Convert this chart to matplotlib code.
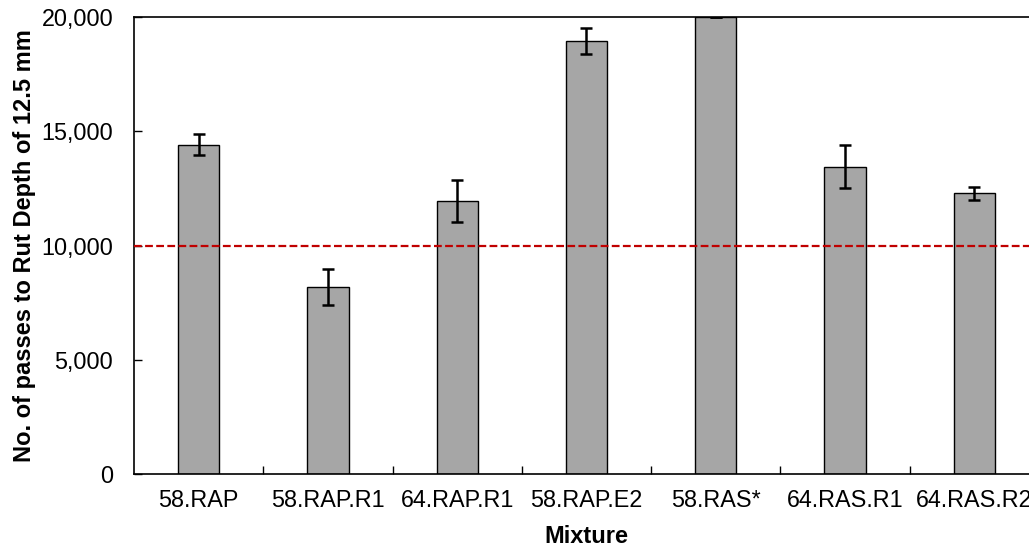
import numpy as np
import matplotlib.pyplot as plt
from matplotlib.ticker import FuncFormatter, MultipleLocator

plt.rcParams['font.family'] = ['Liberation Sans', 'DejaVu Sans']

mixtures = ['58.RAP', '58.RAP.R1', '64.RAP.R1', '58.RAP.E2', '58.RAS*', '64.RAS.R1', '64.RAS.R2']
passes = [14410, 8180, 11950, 18950, 20000, 13450, 12280]
errors = [470, 790, 920, 550, 0, 940, 285]
criterion = 10000

fig = plt.figure(figsize=(10.29, 5.48), dpi=100)
# axes runs off the right edge of the figure
ax = fig.add_axes([0.1302, 0.135, 0.8795, 0.834])

x = np.arange(len(mixtures))
ax.bar(x, passes, width=0.32, color='#A6A6A6', edgecolor='black', linewidth=1, zorder=2)
ax.errorbar(x, passes, yerr=errors, fmt='none', ecolor='black', elinewidth=1.8,
            capsize=4.5, capthick=1.8, zorder=3)
ax.axhline(criterion, color='#C00000', linestyle=(0, (3.5, 1.5)), linewidth=1.6, zorder=4)

ax.set_xlim(-0.5, len(mixtures) - 0.5)
ax.set_ylim(0, 20000)
ax.yaxis.set_major_locator(MultipleLocator(5000))
ax.yaxis.set_major_formatter(FuncFormatter(lambda v, p: f'{int(v):,}'))

ax.set_xticks(x)
ax.set_xticklabels(mixtures)
ax.set_xticks(np.arange(0.5, len(mixtures) - 0.5), minor=True)
ax.tick_params(axis='x', which='major', length=0, pad=11, labelsize=16.8)
ax.tick_params(axis='x', which='minor', direction='in', length=6, width=1)
ax.tick_params(axis='y', direction='in', length=6, width=1, labelsize=16.8, pad=15)

for side in ['left', 'bottom', 'top']:
    ax.spines[side].set_linewidth(1.2)
ax.spines['right'].set_visible(False)

ax.set_xlabel('Mixture', fontsize=17, fontweight='bold', labelpad=9)
ax.set_ylabel('No. of passes to Rut Depth of 12.5 mm', fontsize=17, fontweight='bold', labelpad=4)

fig.savefig('out.png', dpi=100)
